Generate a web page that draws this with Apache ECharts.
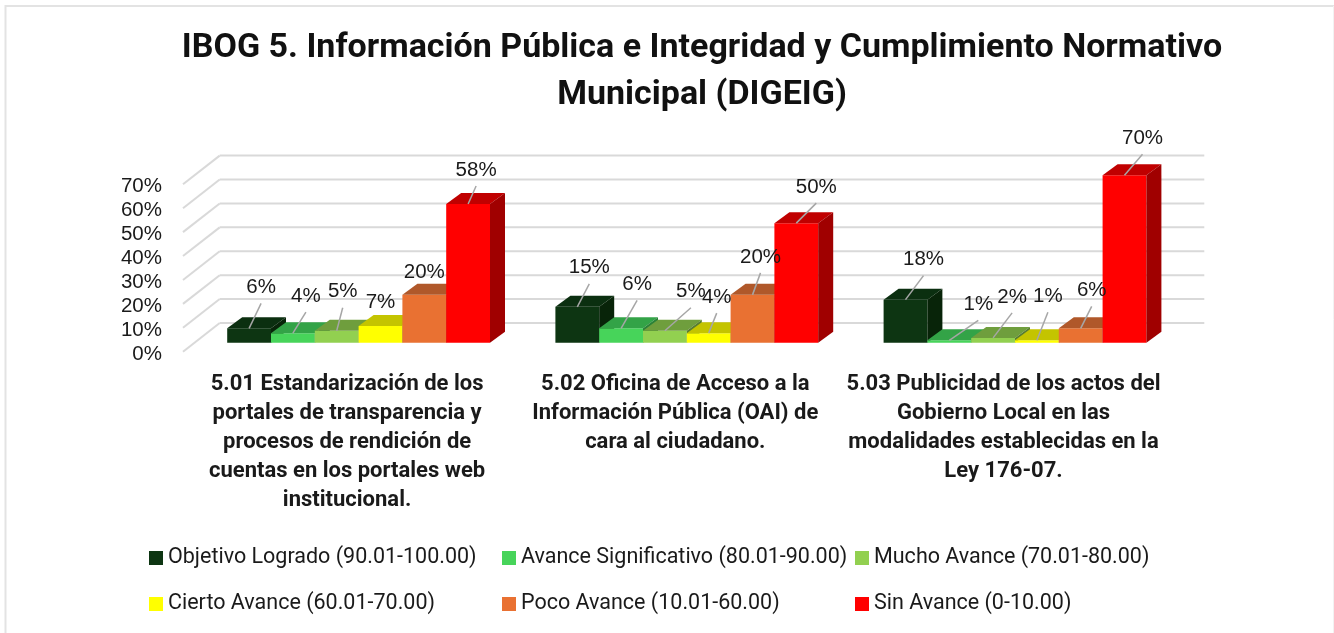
<!DOCTYPE html>
<html>
<head>
<meta charset="utf-8">
<style>
  html, body { margin: 0; padding: 0; background: #fff; }
  #chart { width: 1334px; height: 633px; }
</style>
<script src="https://cdn.jsdelivr.net/npm/echarts@6/dist/echarts.min.js"></script>
</head>
<body>
<div id="chart"></div>
<script>
const categories = [
  '5.01 Estandarización de los\nportales de transparencia y\nprocesos de rendición de\ncuentas en los portales web\ninstitucional.',
  '5.02 Oficina de Acceso a la\nInformación Pública (OAI) de\ncara al ciudadano.',
  '5.03 Publicidad de los actos del\nGobierno Local en las\nmodalidades establecidas en la\nLey 176-07.'
];
const yTicks = [0, 10, 20, 30, 40, 50, 60, 70];

const objetivoLogrado = [6, 15, 18];
const avanceSignificativo = [4, 6, 1];
const muchoAvance = [5, 5, 2];
const ciertoAvance = [7, 4, 1];
const pocoAvance = [20, 20, 6];
const sinAvance = [58, 50, 70];

const seriesNames = [
  'Objetivo Logrado (90.01-100.00)',
  'Avance Significativo (80.01-90.00)',
  'Mucho Avance (70.01-80.00)',
  'Cierto Avance (60.01-70.00)',
  'Poco Avance (10.01-60.00)',
  'Sin Avance (0-10.00)'
];
const seriesValues = [objetivoLogrado, avanceSignificativo, muchoAvance, ciertoAvance, pocoAvance, sinAvance];
const seriesColors = ['#0d3512', '#47d45a', '#92d050', '#ffff00', '#e97132', '#ff0000'];
const topColors = ['#0b2f10', '#33a347', '#6f9e3d', '#c4c400', '#b0582a', '#c00000'];
const sideColors = ['#082409', '#2a8238', '#587e31', '#9e9e00', '#8e4622', '#a00000'];

// where each leader line ends, relative to the top of its bar. no line when the third item is false
const leaders = [
  [[12, -25], [12, -23], [18, -24]],
  [[13, -21], [16, -28], [29, -20]],
  [[6, -23], [26, -23], [19, -25]],
  [[0, -8, false], [8, -20], [11, -28]],
  [[0, -7, false], [8, -22], [11, -22]],
  [[8, -18], [20, -20], [18, -21]]
];

// 3d look of the old excel chart
const FONT = '"Liberation Sans", Arial, sans-serif';
const HEAD_FONT = 'Roboto, sans-serif';
const WALL_DX = 36.7, WALL_DY = 28.7;
const BAR_DX = 11.5, BAR_DY = 9;
const DEPTH_DX = 15, DEPTH_DY = 11;
const BAR_WIDTH = 43.8;

const chartDom = document.getElementById('chart');
const myChart = echarts.init(chartDom);

function renderWall(params, api) {
  const p = api.coord([0, api.value(0)]);
  const left = params.coordSys.x;
  const right = left + params.coordSys.width;
  const style = { stroke: '#d9d9d9', lineWidth: 2, fill: 'none' };
  return {
    type: 'group',
    children: [
      { type: 'line', shape: { x1: left, y1: p[1], x2: left + WALL_DX, y2: p[1] - WALL_DY }, style },
      { type: 'line', shape: { x1: left + WALL_DX, y1: p[1] - WALL_DY, x2: right + WALL_DX, y2: p[1] - WALL_DY }, style }
    ]
  };
}

function makeRenderBar(seriesIndex) {
  const color = seriesColors[seriesIndex];
  return function (params, api) {
    const catIndex = api.value(0);
    const value = api.value(1);
    const top = api.coord([catIndex, value]);
    const base = api.coord([catIndex, 0]);
    const x0 = top[0] + BAR_DX + (seriesIndex - 3) * BAR_WIDTH;
    const x1 = x0 + BAR_WIDTH;
    const y0 = top[1] - BAR_DY;
    const y1 = base[1] - BAR_DY;
    const leader = leaders[seriesIndex][catIndex];
    const midX = x0 + BAR_WIDTH / 2;
    const endX = midX + leader[0];
    const endY = y0 + leader[1];
    const children = [
      { type: 'rect', shape: { x: x0, y: y0, width: BAR_WIDTH, height: y1 - y0 }, style: { fill: color } },
      {
        type: 'polygon',
        shape: { points: [[x0, y0], [x0 + DEPTH_DX, y0 - DEPTH_DY], [x1 + DEPTH_DX, y0 - DEPTH_DY], [x1, y0]] },
        style: { fill: topColors[seriesIndex] }
      },
      {
        type: 'polygon',
        shape: { points: [[x1, y0], [x1 + DEPTH_DX, y0 - DEPTH_DY], [x1 + DEPTH_DX, y1 - DEPTH_DY], [x1, y1]] },
        style: { fill: sideColors[seriesIndex] }
      }
    ];
    if (leader[2] !== false) {
      children.push({
        type: 'line',
        z2: 50,
        shape: { x1: midX, y1: y0, x2: endX, y2: endY },
        style: { stroke: '#a6a6a6', lineWidth: 1.5 }
      });
    }
    children.push({
      type: 'text',
      z2: 60,
      style: {
        text: value + '%',
        x: endX,
        y: endY - 16,
        align: 'center',
        verticalAlign: 'middle',
        font: '20.5px ' + FONT,
        fill: '#1a1a1a'
      }
    });
    return { type: 'group', children };
  };
}

const barSeries = seriesNames.map((name, i) => ({
  name,
  type: 'custom',
  renderItem: makeRenderBar(i),
  itemStyle: { color: seriesColors[i] },
  encode: { x: 0, y: 1 },
  data: seriesValues[i].map((v, c) => [c, v]),
  silent: true
}));

const legendText = { fontFamily: HEAD_FONT, fontSize: 21.5, color: '#1a1a1a' };
const legendBase = {
  orient: 'vertical',
  top: 547,
  icon: 'rect',
  itemWidth: 14,
  itemHeight: 14,
  itemGap: 24,
  padding: 0,
  textStyle: legendText,
  selectedMode: false
};

const option = {
  backgroundColor: '#fff',
  animation: false,
  title: {
    text: 'IBOG 5. Información Pública e Integridad y Cumplimiento Normativo\nMunicipal (DIGEIG)',
    left: 697,
    top: 20,
    textAlign: 'center',
    textStyle: { fontFamily: HEAD_FONT, fontSize: 34, fontWeight: 'bold', color: '#111', lineHeight: 47 }
  },
  legend: [
    Object.assign({}, legendBase, { left: 149, data: [seriesNames[0], seriesNames[3]] }),
    Object.assign({}, legendBase, { left: 502, data: [seriesNames[1], seriesNames[4]] }),
    Object.assign({}, legendBase, { left: 855, data: [seriesNames[2], seriesNames[5]] })
  ],
  // thin frame of the pasted picture
  graphic: [
    {
      type: 'polyline',
      silent: true,
      shape: { points: [[5.5, 633], [5.5, 6], [1334, 6]] },
      style: { stroke: '#e3e3e3', lineWidth: 2, fill: 'none' }
    },
    {
      type: 'line',
      silent: true,
      shape: { x1: 1333.5, y1: 6, x2: 1333.5, y2: 633 },
      style: { stroke: '#f2f2f2', lineWidth: 1 }
    }
  ],
  grid: { left: 183, top: 184.3, width: 984.6, height: 167.4 },
  xAxis: {
    type: 'category',
    data: categories,
    axisLine: { show: false },
    axisTick: { show: false },
    axisLabel: {
      interval: 0,
      margin: 18,
      fontFamily: HEAD_FONT,
      fontSize: 22,
      fontWeight: 'bold',
      lineHeight: 29,
      color: '#1a1a1a'
    }
  },
  yAxis: {
    type: 'value',
    min: 0,
    max: 70,
    interval: 10,
    axisLine: { show: false },
    axisTick: { show: false },
    splitLine: { show: false },
    axisLabel: { formatter: '{value}%', margin: 21, verticalAlign: 'top', lineHeight: 5, fontFamily: FONT, fontSize: 20.5, color: '#1a1a1a' }
  },
  series: [
    {
      name: 'wall',
      type: 'custom',
      renderItem: renderWall,
      encode: { y: 0 },
      data: yTicks.map(t => [t]),
      silent: true,
      z: 1
    }
  ].concat(barSeries)
};

myChart.setOption(option);
</script>
</body>
</html>
